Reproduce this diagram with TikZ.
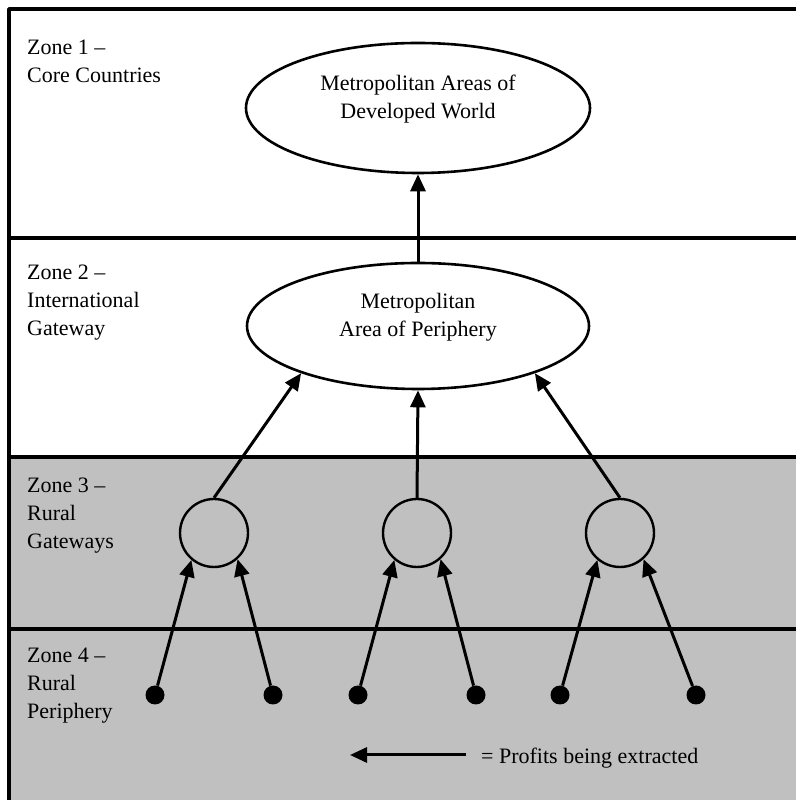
\documentclass[tikz,border=0pt]{standalone}
\usepackage{fontspec}
\setmainfont{Liberation Serif}
\usetikzlibrary{arrows.meta,shapes.geometric}
\definecolor{zonegray}{HTML}{C0C0C0}
\tikzset{
  zonelabel/.style={anchor=base west,align=left,inner sep=0pt},
  city/.style={ellipse,draw,line width=2.6bp,minimum width=344bp,minimum height=130bp,inner sep=0pt},
  gateway/.style={circle,draw,line width=2.4bp,minimum size=68bp,inner sep=0pt},
  village/.style={circle,fill=black,minimum size=19bp,inner sep=0pt},
  profit/.style={line width=3bp,-{Triangle[length=17bp,width=15bp]}},
  zoneline/.style={line width=3.2bp},
}
\begin{document}
\begin{tikzpicture}[>=latex,line join=bevel,font=\fontsize{22bp}{28bp}\selectfont]
%%
\clip (0bp,0bp) rectangle (796bp,800bp);
\fill [white] (0bp,0bp) rectangle (796bp,800bp);
\fill [zonegray] (9bp,-10bp) rectangle (810bp,343bp);
\draw [zoneline] (9bp,-10bp) rectangle (810bp,791bp);
\draw [zoneline] (9bp,562bp) -- (810bp,562bp);
\draw [zoneline] (9bp,343bp) -- (810bp,343bp);
\draw [zoneline] (9bp,171bp) -- (810bp,171bp);
%
\node (zone_1) at (27bp,717bp) [zonelabel] {Zone 1 --\\Core Countries};
  \node (zone_2) at (27bp,464bp) [zonelabel] {Zone 2 --\\International\\Gateway};
  \node (zone_3) at (27bp,251bp) [zonelabel] {Zone 3 --\\Rural\\Gateways};
  \node (zone_4) at (27bp,81bp) [zonelabel] {Zone 4 --\\Rural\\Periphery};
%
\node (city_core) at (418bp,692bp) [city] {};
  \node (city_core_text) at (418bp,701bp) [align=center] {Metropolitan Areas of\\Developed World};
  \node (city_periphery) at (418bp,474bp) [city,minimum width=342bp,minimum height=126bp] {};
  \node (city_periphery_text) at (418bp,483bp) [align=center] {Metropolitan\\Area of Periphery};
%
\node (gateway_0) at (214bp,267bp) [gateway] {};
  \node (gateway_1) at (417bp,267bp) [gateway] {};
  \node (gateway_2) at (620bp,267bp) [gateway] {};
%
\node (village_0) at (155bp,105bp) [village] {};
  \node (village_1) at (273bp,105bp) [village] {};
  \node (village_2) at (358bp,105bp) [village] {};
  \node (village_3) at (476bp,105bp) [village] {};
  \node (village_4) at (560bp,105bp) [village] {};
  \node (village_5) at (696bp,105bp) [village] {};
%
\draw [profit] (city_periphery.north) -- (city_core.south);
  \draw [profit] (gateway_0.north) -- (city_periphery.202);
  \draw [profit] (gateway_1.north) -- (city_periphery.south);
  \draw [profit] (gateway_2.north) -- (city_periphery.338);
  \draw [profit] (village_0) -- (gateway_0.230);
  \draw [profit] (village_1) -- (gateway_0.312);
  \draw [profit] (village_2) -- (gateway_1.230);
  \draw [profit] (village_3) -- (gateway_1.312);
  \draw [profit] (village_4) -- (gateway_2.230);
  \draw [profit] (village_5) -- (gateway_2.312);
%
\coordinate (legend_tail) at (466bp,45bp);
  \coordinate (legend_head) at (350bp,45bp);
  \draw [profit] (legend_tail) -- (legend_head);
  \node (legend_text) at (481bp,37bp) [anchor=base west,inner sep=0pt] {= Profits being extracted};
%
\end{tikzpicture}
\end{document}
